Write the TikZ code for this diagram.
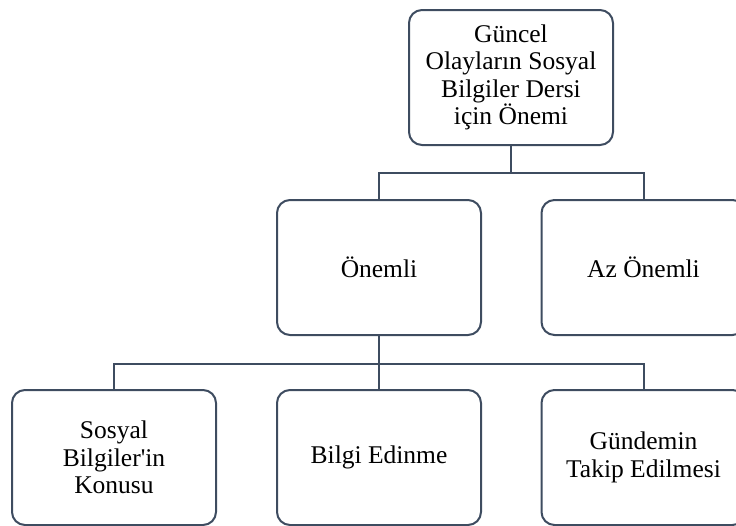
\documentclass[tikz,border=0pt]{standalone}
\usepackage{fontspec}
\setmainfont{Liberation Serif}[Ligatures=TeXOff]
\usepackage{tikz}
\definecolor{linec}{HTML}{3E4C60}

\begin{document}
\begin{tikzpicture}[x=1pt,y=-1pt,
  box/.style={draw=linec, line width=2pt, rounded corners=13pt, align=center,
    inner sep=0pt, minimum width=204pt, minimum height=135pt,
    font=\fontsize{25.5}{27.3}\selectfont},
  link/.style={draw=linec, line width=2pt}]
\useasboundingbox (0,0) rectangle (736,525);
\clip (0,0) rectangle (736,525);
% top
\node[box] (guncel) at (511,77.5) {G\"uncel\\Olaylar\i n Sosyal\\Bilgiler Dersi\\i\c cin \"Onemi};
% second row
\node[box] (onemli) at (379,267.5) {\"Onemli};
\node[box] (az) at (643.5,267.5) {Az \"Onemli};
% third row
\node[box] (konu) at (114,457.5) {Sosyal\\Bilgiler'in\\Konusu};
\node[box] (bilgi) at (379,457.5) {Bilgi Edinme};
\node[box] (gundem) at (643.5,457.5) {G\"undemin\\Takip Edilmesi};
% links
\draw[link] (guncel.south) -- ++(0,27) -| (onemli.north);
\draw[link] (guncel.south) -- ++(0,27) -| (az.north);
\draw[link] (onemli.south) -- ++(0,28) -| (konu.north);
\draw[link] (onemli.south) -- ++(0,28) -| (gundem.north);
\draw[link] (onemli.south) -- (bilgi.north);
\end{tikzpicture}
\end{document}
